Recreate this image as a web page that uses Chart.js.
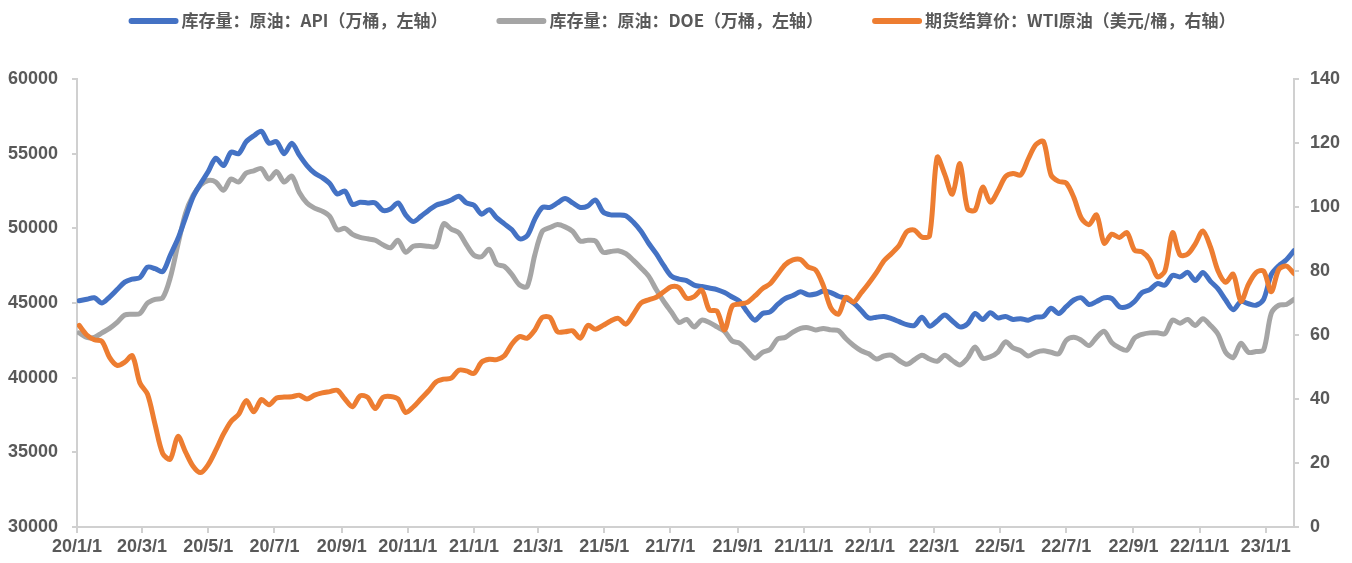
<!DOCTYPE html>
<html>
<head>
<meta charset="utf-8">
<script src="https://cdn.jsdelivr.net/npm/chart.js@4.4.1/dist/chart.umd.min.js"></script>
<style>
  html, body { margin: 0; padding: 0; background: #fff; }
</style>
</head>
<body>
<canvas id="crudeChart" width="1352" height="563"></canvas>
<script>
// Weekly series, first week ending 2020/1/3
const firstWeek = '2020-01-03';

// 库存量：原油：API（万桶）
const apiStock = [
  45150, 45250, 45350, 45000, 45400, 45900, 46400, 46600, 46700, 47400,
  47300, 47100, 48200, 49300, 50700, 52100, 53000, 53800, 54700, 54200,
  55100, 55000, 55800, 56200, 56500, 55700, 55800, 55000, 55700, 54900,
  54200, 53700, 53400, 53000, 52300, 52500, 51600, 51750, 51700, 51700,
  51200, 51300, 51700, 50900, 50450, 50800, 51200, 51550, 51700, 51900,
  52150, 51700, 51550, 50950, 51250, 50700, 50300, 49900, 49300, 49500,
  50600, 51400, 51400, 51700, 52000, 51700, 51400, 51500, 51900, 51100,
  50900, 50900, 50850, 50400, 49800, 49000, 48300, 47500, 46800, 46600,
  46500, 46200, 46100, 46000, 45900, 45700, 45400, 45100, 44400, 43850,
  44300, 44400, 44900, 45300, 45500, 45750, 45550, 45600, 45800, 45700,
  45450, 45300, 45000, 44500, 44000, 44050, 44100, 43950, 43750, 43550,
  43500, 44050, 43450, 43800, 44200, 43800, 43400, 43600, 44300, 43900,
  44350, 44000, 44100, 43900, 43950, 43850, 44050, 44100, 44650, 44300,
  44750, 45200, 45350, 44900, 45100, 45350, 45300, 44750, 44750, 45100,
  45700, 45900, 46300, 46200, 46850, 46750, 47050, 46500, 47050, 46450,
  45950, 45200, 44550, 45100, 44950, 44850, 45250, 46900, 47500, 47900,
  48500
];

// 库存量：原油：DOE（万桶）
const doeStock = [
  43000, 42700, 42700, 43000, 43300, 43700, 44200, 44250, 44300, 45000,
  45250, 45350, 46700, 48900, 51000, 52200, 52900, 53200, 53100, 52550,
  53300, 53100, 53700, 53850, 54000, 53300, 53800, 53100, 53500, 52400,
  51700, 51350, 51150, 50800, 49900, 50000, 49600, 49400, 49300, 49200,
  48900, 48700, 49200, 48400, 48800, 48850, 48800, 48800, 50300, 49950,
  49700, 48900, 48200, 48100, 48600, 47600, 47450, 46900, 46200, 46100,
  48200, 49800, 50050, 50250, 50100, 49800, 49150, 49200, 49150, 48400,
  48450, 48500, 48300, 47850, 47350, 46800, 45900, 45100, 44400, 43700,
  43900, 43400, 43850, 43700, 43400, 43100, 42450, 42300, 41800, 41300,
  41700, 41900, 42600, 42700, 43050, 43300, 43350, 43200, 43300, 43200,
  43150, 42600, 42150, 41800, 41600, 41250, 41450, 41500, 41150, 40900,
  41200, 41500, 41250, 41100, 41500, 41150, 40850, 41300, 42050, 41300,
  41400, 41700, 42400, 42000, 41800, 41450, 41700, 41800, 41700, 41600,
  42500, 42700, 42500, 42150, 42700, 43100, 42350, 42000, 41850, 42650,
  42900, 43000, 43000, 42950, 43850, 43650, 43900, 43500, 43950, 43500,
  42900, 41700, 41350, 42300, 41700, 41750, 41850, 44300, 44850, 44900,
  45250
];

// 期货结算价：WTI原油（美元/桶）
const wtiPrice = [
  63, 60, 58.5, 58, 53, 50.5, 51.5, 53.5, 45, 41.5,
  32, 23, 21.2, 28.3, 23.5, 19, 17, 19.5, 24, 29,
  33, 35.2, 39.5, 36, 39.8, 38.2, 40.3, 40.6, 40.7, 41.2,
  40, 41.2, 41.9, 42.3, 42.7, 40, 37.6, 41, 40.5, 37,
  40.5, 40.8, 40, 35.8, 37.5, 40, 42.5, 45.3, 46.2, 46.5,
  49, 48.8, 48, 51.5, 52.4, 52.3, 53.5, 57.2, 59.5, 59,
  61.5, 65.5, 65.5, 61, 61, 61.3, 59, 63, 61.8, 63,
  64.4, 65.2, 63.4, 66.5, 70, 71, 71.8, 73.5, 75.1, 74.8,
  71.5, 72, 74, 67.8, 67.5, 61.6, 69, 69.7, 70.2, 72.2,
  74.5, 76, 79, 82, 83.5, 83.6, 81.3, 80.3, 75.5, 68.5,
  66.5, 71.8, 70.3, 73.2, 76.2, 79.5, 83.2, 85.5, 88, 92.3,
  92.8, 90.6, 91, 115.5, 110.2, 104, 113.5, 99.5, 99, 106.2,
  101.5, 105, 109.5, 110.5, 110, 115, 119.5, 120.5, 110, 108,
  107.5, 103, 96.5, 94.5, 97.5, 88.7, 91.5, 90.5, 92, 86.5,
  86, 83.5, 78.2, 80, 92, 85, 85.3, 88.5, 92.5, 87.5,
  80, 76.5, 79, 70.5, 75.8, 79.5, 80, 73.5, 80.5, 81.5,
  79.2
];

// x axis tick labels (yy/m/d)
const tickLabels = [
  '20/1/1', '20/3/1', '20/5/1', '20/7/1', '20/9/1', '20/11/1',
  '21/1/1', '21/3/1', '21/5/1', '21/7/1', '21/9/1', '21/11/1',
  '22/1/1', '22/3/1', '22/5/1', '22/7/1', '22/9/1', '22/11/1',
  '23/1/1'
];

const seriesNames = [
  '库存量：原油：API（万桶，左轴）',
  '库存量：原油：DOE（万桶，左轴）',
  '期货结算价：WTI原油（美元/桶，右轴）'
];

// days since 2020/1/1
const DAY = 86400000;
const origin = Date.UTC(2020, 0, 1);
function labelToDay(lbl) {
  const p = lbl.split('/').map(Number);
  return Math.round((Date.UTC(2000 + p[0], p[1] - 1, p[2]) - origin) / DAY);
}
const firstDay = Math.round((Date.parse(firstWeek + 'T00:00:00Z') - origin) / DAY);
const weekDays = apiStock.map((_, i) => firstDay + 7 * i);
const tickDays = tickLabels.map(labelToDay);

const toPoints = arr => arr.map((v, i) => ({ x: weekDays[i], y: v }));

const axisGray = '#d0d0d0';
const textGray = '#595959';
const tickFont = { family: '"Liberation Sans Narrow", "Liberation Sans", Arial, sans-serif', size: 18, weight: 'bold' };

// legend drawn across the top
const topLegend = {
  id: 'topLegend',
  afterDraw(chart) {
    const c = chart.ctx;
    c.save();
    c.font = 'bold 17px "Noto Sans CJK SC", sans-serif';
    c.textBaseline = 'middle';
    const sets = chart.data.datasets;
    const swatch = 50, gap = 3, spacing = 49;
    const widths = sets.map(d => swatch + gap + c.measureText(d.label).width);
    const total = widths.reduce((a, b) => a + b, 0) + spacing * (sets.length - 1);
    let x = (chart.width - total) / 2 + 6;
    const y = 21;
    sets.forEach((d, i) => {
      c.strokeStyle = d.borderColor;
      c.lineWidth = 6;
      c.lineCap = 'round';
      c.beginPath();
      c.moveTo(x + 3, y);
      c.lineTo(x + swatch - 3, y);
      c.stroke();
      c.fillStyle = textGray;
      c.fillText(d.label, x + swatch + gap, y);
      x += widths[i] + spacing;
    });
    c.restore();
  }
};

const ctx = document.getElementById('crudeChart').getContext('2d');

new Chart(ctx, {
  type: 'line',
  data: {
    datasets: [
      {
        label: seriesNames[0],
        data: toPoints(apiStock),
        borderColor: '#4472C4',
        yAxisID: 'y',
        order: 1
      },
      {
        label: seriesNames[1],
        data: toPoints(doeStock),
        borderColor: '#A5A5A5',
        yAxisID: 'y',
        order: 2
      },
      {
        label: seriesNames[2],
        data: toPoints(wtiPrice),
        borderColor: '#ED7D31',
        yAxisID: 'y1',
        order: 0
      }
    ]
  },
  options: {
    responsive: false,
    animation: false,
    layout: { padding: { top: 79, left: 0, right: 0, bottom: 0 } },
    elements: {
      line: { borderWidth: 5, tension: 0.3, borderCapStyle: 'round', borderJoinStyle: 'round', fill: false },
      point: { radius: 0, hoverRadius: 0 }
    },
    plugins: {
      legend: { display: false },
      tooltip: { enabled: false }
    },
    scales: {
      x: {
        type: 'linear',
        min: 0,
        max: weekDays[weekDays.length - 1],
        afterBuildTicks: axis => { axis.ticks = tickDays.map(v => ({ value: v })); },
        afterFit: scale => { scale.height = 36; },
        ticks: {
          autoSkip: false,
          maxRotation: 0,
          color: textGray,
          font: tickFont,
          padding: 3,
          callback: (value, index) => tickLabels[index]
        },
        grid: { drawOnChartArea: false, drawTicks: true, tickLength: 6, color: axisGray, lineWidth: 2 },
        border: { color: axisGray, width: 2 }
      },
      y: {
        position: 'left',
        min: 30000,
        max: 60000,
        afterBuildTicks: axis => {
          const t = [];
          for (let v = 30000; v <= 60000; v += 5000) t.push({ value: v });
          axis.ticks = t;
        },
        afterFit: scale => { scale.width = 77; },
        ticks: {
          color: textGray,
          font: tickFont,
          padding: 14,
          callback: v => String(v)
        },
        grid: { drawOnChartArea: false, drawTicks: true, tickLength: 5, color: axisGray, lineWidth: 2 },
        border: { color: axisGray, width: 2 }
      },
      y1: {
        position: 'right',
        min: 0,
        max: 140,
        afterBuildTicks: axis => {
          const t = [];
          for (let v = 0; v <= 140; v += 20) t.push({ value: v });
          axis.ticks = t;
        },
        afterFit: scale => { scale.width = 58; },
        ticks: {
          color: textGray,
          font: tickFont,
          padding: 11,
          callback: v => String(v)
        },
        grid: { drawOnChartArea: false, drawTicks: true, tickLength: 5, color: axisGray, lineWidth: 2 },
        border: { color: axisGray, width: 2 }
      }
    }
  },
  plugins: [topLegend]
});
</script>
</body>
</html>
